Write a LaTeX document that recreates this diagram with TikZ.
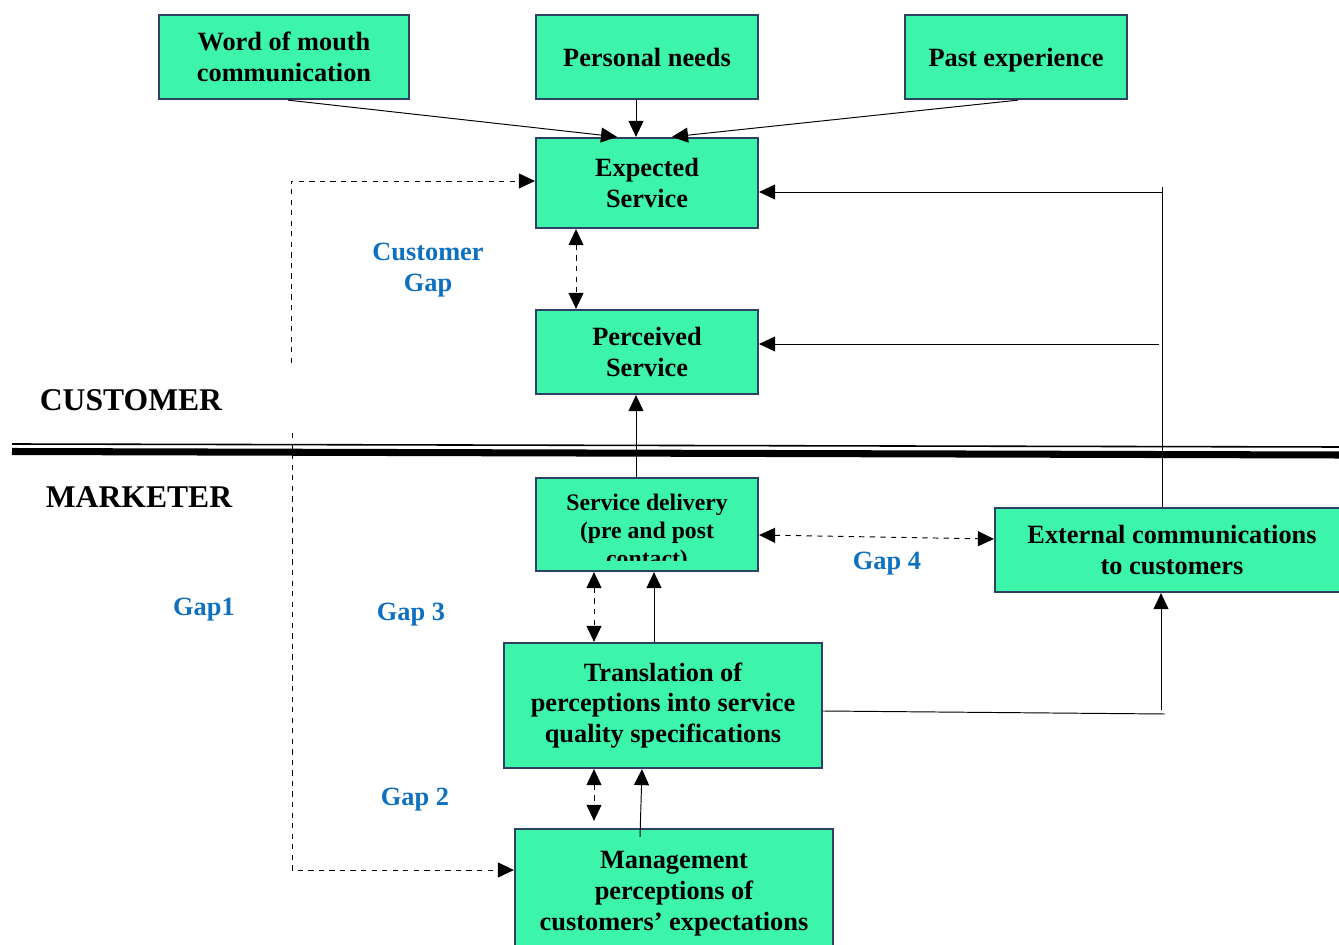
\documentclass[tikz,border=0pt]{standalone}
\usepackage{fontspec}
\setmainfont{Liberation Serif}
\usepackage{tikz}
\usetikzlibrary{arrows.meta}

\definecolor{boxgreen}{RGB}{60,245,170}
\definecolor{boxedge}{RGB}{46,64,100}
\definecolor{gapblue}{RGB}{14,112,192}

\tikzset{
    box/.style={rectangle, draw=boxedge, line width=1.3pt, fill=boxgreen, align=center, inner sep=0pt, font=\fontsize{15}{17.6}\selectfont\bfseries},
    gaplabel/.style={text=gapblue, align=center, font=\fontsize{15}{17.6}\selectfont\bfseries},
    side/.style={font=\fontsize{18}{21}\selectfont\bfseries},
    arr/.style={line width=0.55pt, -{Triangle[length=0.32cm,width=0.3cm]}},
    darr/.style={line width=0.55pt, dashed, {Triangle[length=0.32cm,width=0.3cm]}-{Triangle[length=0.32cm,width=0.3cm]}}
}

\begin{document}
\begin{tikzpicture}[x=0.02cm, y=-0.02cm]
        \clip (0,0) rectangle (1339,945);

        % Nodes
        \node[box, minimum width=5cm, minimum height=1.68cm] (wom) at (284,57) {Word of mouth\\communication};
        \node[box, minimum width=4.44cm, minimum height=1.68cm, text height=0.5cm, text depth=0.11cm] (needs) at (647,57) {Personal needs};
        \node[box, minimum width=4.44cm, minimum height=1.68cm, text height=0.5cm, text depth=0.11cm] (past) at (1016,57) {Past experience};
        \node[box, minimum width=4.44cm, minimum height=1.8cm] (expected) at (647,183) {Expected\\Service};
        \node[box, minimum width=4.44cm, minimum height=1.68cm] (perceived) at (647,352) {Perceived\\Service};
        \node[box, minimum width=4.44cm, minimum height=1.86cm] (deliv) at (647,524.5) {};
        \begin{scope}
            \clip (536,478) rectangle (758,561);
            \node[align=center, font=\fontsize{13.5}{15.9}\selectfont\bfseries] (delivtext) at (647,533) {Service delivery\\(pre and post\\contact)};
        \end{scope}
        \node[box, minimum width=7.08cm, minimum height=1.68cm] (extcom) at (1172,550) {External communications\\to customers};
        \node[box, minimum width=6.36cm, minimum height=2.5cm] (trans) at (663,705.5) {Translation of\\perceptions into service\\quality specifications};
        \node[box, minimum width=6.36cm, minimum height=2.6cm] (mgmt) at (674,894) {Management\\perceptions of\\customers' expectations};

        % Labels
        \node[side] (custlabel) at (131,400) {CUSTOMER};
        \node[side] (mktlabel) at (139,497) {MARKETER};
        \node[gaplabel] (custgap) at (428,270) {Customer\\Gap};
        \node[gaplabel] (gap1) at (204,610) {Gap1};
        \node[gaplabel] (gap3) at (411,615) {Gap 3};
        \node[gaplabel] (gap4) at (887,564) {Gap 4};
        \node[gaplabel] (gap2) at (415,800) {Gap 2};

        % Customer / marketer divide
        \draw[line width=0.9pt] (12,444) -- (1339,447);
        \draw[line width=4pt] (12,451.5) -- (1339,455);

        % Coordinates
        \coordinate (gap1top) at (291,363);
        \coordinate (gap1low) at (292,433);
        \coordinate (rtop) at (1162,187);
        \coordinate (exptap) at (1162,192);
        \coordinate (pertap) at (1159,344);
        \coordinate (gapcol) at (594,600);
        \coordinate (upcol) at (654,600);
        \coordinate (rbot) at (1165,714);
        \coordinate (rup) at (1161,710);

        % Edges
        \draw[arr] ([xshift=0.08cm]wom.south) -- ([xshift=-0.6cm]expected.north);
        \draw[arr] ([xshift=-0.22cm]needs.south) -- ([xshift=-0.22cm]expected.north);
        \draw[arr] ([xshift=0.04cm]past.south) -- ([xshift=0.5cm]expected.north);
        \draw[darr] ([xshift=-1.42cm]expected.south) -- ([xshift=-1.42cm]perceived.north);
        \draw[arr, dashed] (gap1top) |- ([yshift=0.04cm]expected.west);
        \draw[arr, dashed] (gap1low) |- ([yshift=0.48cm]mgmt.west);
        \draw[line width=0.55pt] (rtop |- extcom.north) -- (rtop);
        \draw[arr] (exptap) -- (exptap -| expected.east);
        \draw[arr] (pertap) -- (pertap -| perceived.east);
        \draw[arr] ([xshift=-0.22cm]deliv.north) -- ([xshift=-0.22cm]perceived.south);
        \draw[darr] ([yshift=-0.21cm]deliv.east) -- ([yshift=0.22cm]extcom.west);
        \draw[darr] (gapcol |- deliv.south) -- (gapcol |- trans.north);
        \draw[arr] (upcol |- trans.north) -- (upcol |- deliv.south);
        \draw[line width=0.55pt] ([yshift=-0.11cm]trans.east) -- (rbot);
        \draw[arr] (rup) -- (rup |- extcom.south);
        \draw[darr, shorten >=0.14cm] (gapcol |- trans.south) -- (gapcol |- mgmt.north);
        \draw[arr] ([xshift=-0.68cm,yshift=-0.18cm]mgmt.north) -- ([xshift=-0.42cm]trans.south);
    \end{tikzpicture}
\end{document}
